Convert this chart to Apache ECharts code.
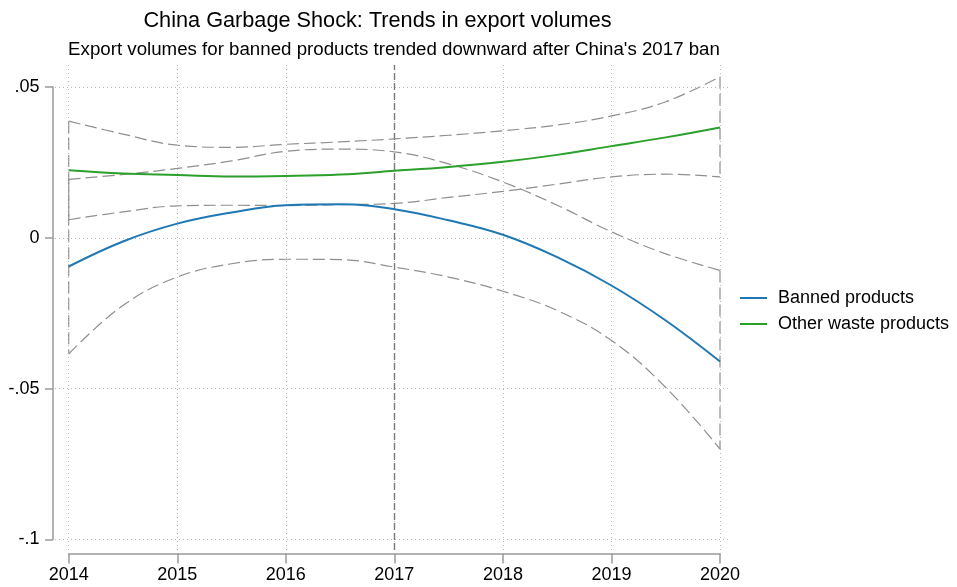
<!DOCTYPE html>
<html>
<head>
<meta charset="utf-8">
<script src="https://cdn.jsdelivr.net/npm/echarts@6/dist/echarts.min.js"></script>
<style>
html,body{margin:0;padding:0;background:#fff;}
#chart{width:957px;height:587px;}
</style>
</head>
<body>
<div id="chart"></div>
<script>
// ---- data ----
var years = [2014, 2014.5, 2015, 2015.5, 2016, 2016.5, 2017, 2017.5, 2018, 2018.5, 2019, 2019.5, 2020];
var banned      = [-0.0095, -0.0012, 0.0047, 0.0084, 0.0108, 0.0111, 0.0095, 0.0058, 0.0010, -0.0064, -0.0158, -0.0274, -0.0410];
var bannedUpper = [0.0194, 0.0210, 0.0230, 0.0255, 0.0287, 0.0294, 0.0285, 0.0245, 0.0185, 0.0108, 0.0020, -0.0053, -0.0108];
var bannedLower = [-0.0385, -0.0224, -0.0130, -0.0086, -0.0071, -0.0072, -0.0097, -0.0130, -0.0177, -0.0241, -0.0340, -0.0496, -0.0700];
var other       = [0.0224, 0.0213, 0.0208, 0.0203, 0.0205, 0.0210, 0.0222, 0.0235, 0.0252, 0.0275, 0.0304, 0.0333, 0.0366];
var otherUpper  = [0.0387, 0.0344, 0.0307, 0.0300, 0.0310, 0.0318, 0.0328, 0.0340, 0.0355, 0.0374, 0.0404, 0.0451, 0.0534];
var otherLower  = [0.0060, 0.0086, 0.0106, 0.0108, 0.0107, 0.0110, 0.0114, 0.0134, 0.0154, 0.0178, 0.0202, 0.0211, 0.0202];
var xTicks = [2014, 2015, 2016, 2017, 2018, 2019, 2020];
var yTicks = [0.05, 0, -0.05, -0.1];
var yTickLabels = ['.05', '0', '-.05', '-.1'];
var banYear = 2017;
var titleText = 'China Garbage Shock: Trends in export volumes';
var subtitleText = "Export volumes for banned products trended downward after China's 2017 ban";
var seriesNames = ['Banned products', 'Other waste products'];

// ---- helpers ----
function pairs(xs, ys) { return xs.map(function (x, i) { return [x, ys[i]]; }); }
var FONT = '"Liberation Sans", Arial, Helvetica, sans-serif';
var CI_STYLE = { color: '#8f8f8f', width: 1.2, type: [12, 5] };
var last = years.length - 1;

function ciSeries(upper, lower) {
  var base = { type: 'line', xAxisIndex: 0, yAxisIndex: 0, symbol: 'none', silent: true, clip: false,
               lineStyle: CI_STYLE, z: 3 };
  return [
    Object.assign({}, base, { data: pairs(years, upper), smooth: 0.4 }),
    Object.assign({}, base, { data: pairs(years, lower), smooth: 0.4 }),
    Object.assign({}, base, { data: [[years[0], upper[0]], [years[0], lower[0]]] }),
    Object.assign({}, base, { data: [[years[last], upper[last]], [years[last], lower[last]]] })
  ];
}

var xSpan = 2020 - 2014;
var chart = echarts.init(document.getElementById('chart'), null, { renderer: 'canvas' });

var series = [];
// gridline holder on outer grid
series.push({
  type: 'line', xAxisIndex: 1, yAxisIndex: 1, data: [], silent: true,
  markLine: {
    silent: true, symbol: ['none', 'none'], label: { show: false }, animation: false,
    lineStyle: { color: '#b8b8b8', width: 1, type: [1, 3] },
    data: xTicks.map(function (v) { return { xAxis: v }; })
          .concat(yTicks.map(function (v) { return { yAxis: v }; }))
  },
  z: 1
});
// 2017 ban line
series.push({
  type: 'line', xAxisIndex: 1, yAxisIndex: 1, data: [], silent: true,
  markLine: {
    silent: true, symbol: ['none', 'none'], label: { show: false }, animation: false,
    lineStyle: { color: '#7a7a7a', width: 1.4, type: [7, 3] },
    data: [{ xAxis: banYear }]
  },
  z: 2
});
series = series.concat(ciSeries(bannedUpper, bannedLower), ciSeries(otherUpper, otherLower));
series.push({
  name: seriesNames[0], type: 'line', xAxisIndex: 0, yAxisIndex: 0, symbol: 'none', smooth: 0.4, clip: false,
  data: pairs(years, banned), lineStyle: { color: '#1f77b4', width: 2 }, itemStyle: { color: '#1f77b4' }, z: 5
});
series.push({
  name: seriesNames[1], type: 'line', xAxisIndex: 0, yAxisIndex: 0, symbol: 'none', smooth: 0.4, clip: false,
  data: pairs(years, other), lineStyle: { color: '#2ca02c', width: 2 }, itemStyle: { color: '#2ca02c' }, z: 5
});

var axisLineStyle = { color: '#9a9a9a', width: 1.5 };

var option = {
  animation: false,
  backgroundColor: '#fff',
  textStyle: { fontFamily: FONT },
  title: [
    { text: titleText, left: 372.5, top: 5, textAlign: 'center',
      textStyle: { fontFamily: FONT, fontSize: 21.7, fontWeight: 'normal', color: '#000' } },
    { text: subtitleText, left: 389, top: 35, textAlign: 'center',
      textStyle: { fontFamily: FONT, fontSize: 18.7, fontWeight: 'normal', color: '#000' } }
  ],
  legend: {
    data: seriesNames, orient: 'vertical', left: 735, top: 284,
    icon: 'rect', itemWidth: 27, itemHeight: 2, itemGap: 8,
    textStyle: { fontFamily: FONT, fontSize: 18, color: '#000', padding: [0, 0, 0, 6] },
    selectedMode: false
  },
  grid: [
    { left: 68.7, right: 957 - 720, top: 87, bottom: 587 - 539.5, containLabel: false },
    { left: 55, right: 957 - 730, top: 65, bottom: 587 - 550, containLabel: false }
  ],
  xAxis: [
    { type: 'value', gridIndex: 0, min: 2014, max: 2020, interval: 1, offset: 14,
      axisLine: { show: true, onZero: false, lineStyle: axisLineStyle },
      axisTick: { show: true, length: 10, lineStyle: axisLineStyle },
      axisLabel: { fontFamily: FONT, fontSize: 18, color: '#000', margin: 13,
                   formatter: function (v) { return String(v); } },
      splitLine: { show: false } },
    { type: 'value', gridIndex: 1, min: 2014 - 13.7 / ((720 - 68.7) / xSpan), max: 2020 + 10 / ((720 - 68.7) / xSpan),
      show: false, splitLine: { show: false } }
  ],
  yAxis: [
    { type: 'value', gridIndex: 0, min: -0.1, max: 0.05, interval: 0.05, offset: 15.7,
      axisLine: { show: true, onZero: false, lineStyle: axisLineStyle },
      axisTick: { show: true, length: 8, lineStyle: axisLineStyle },
      axisLabel: { fontFamily: FONT, fontSize: 18, color: '#000', margin: 13.5,
                   formatter: function (v) {
                     for (var i = 0; i < yTicks.length; i++) { if (Math.abs(v - yTicks[i]) < 1e-9) return yTickLabels[i]; }
                     return '';
                   } },
      splitLine: { show: false } },
    { type: 'value', gridIndex: 1,
      min: -0.1 - 10.5 / ((539.5 - 87) / 0.15), max: 0.05 + 22 / ((539.5 - 87) / 0.15),
      show: false, splitLine: { show: false } }
  ],
  series: series
};
chart.setOption(option);
</script>
</body>
</html>
